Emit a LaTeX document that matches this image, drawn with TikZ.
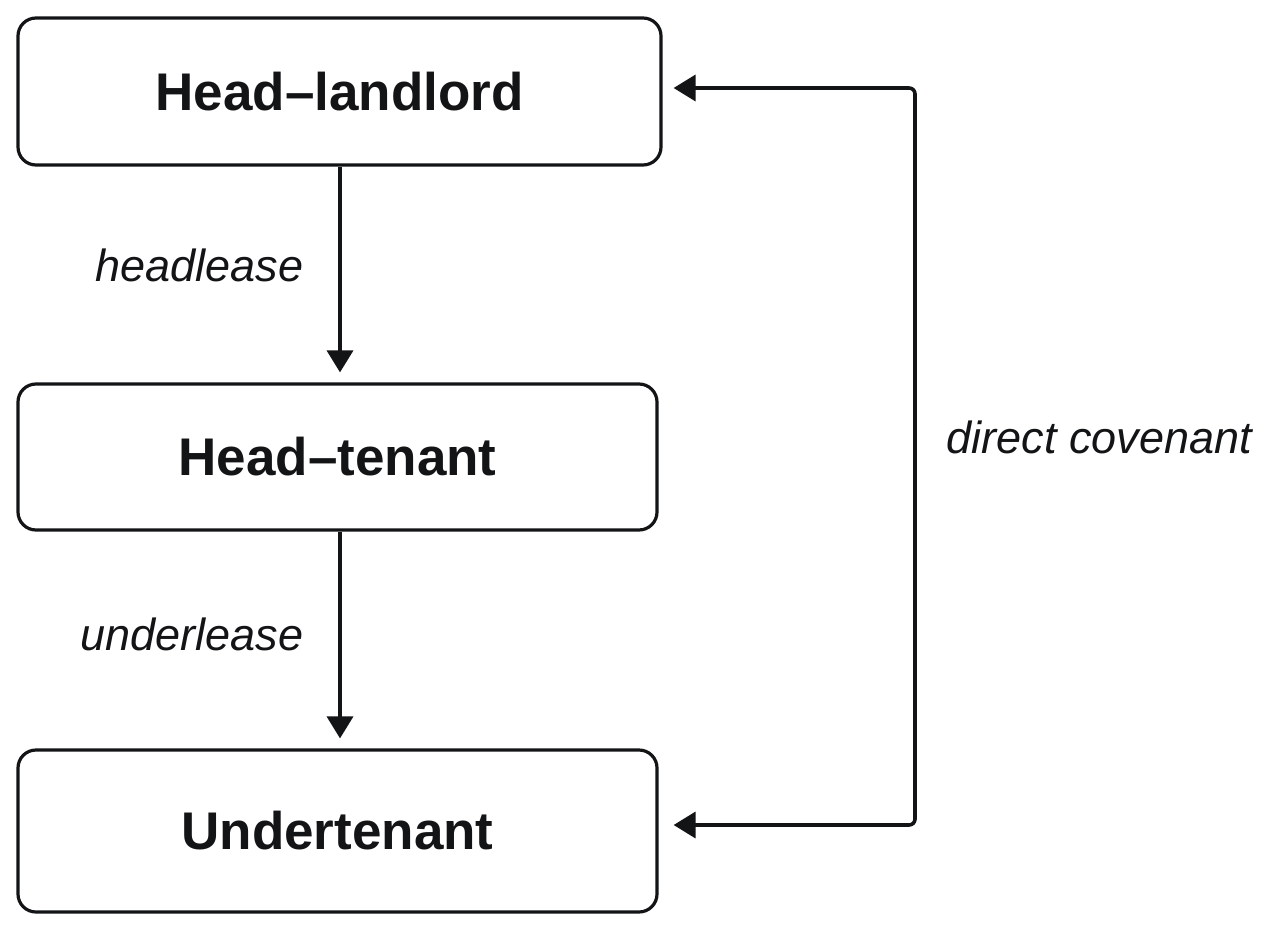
\documentclass[tikz,border=0pt]{standalone}
\usepackage{fontspec}
\setmainfont{Liberation Sans}
\usetikzlibrary{arrows.meta}
\definecolor{ink}{HTML}{131416}
\tikzset{
	party/.style={draw=ink, text=ink, line width=1.6pt, rounded corners=9pt, inner sep=0pt, font=\fontsize{26.5}{32}\selectfont\bfseries},
	lease/.style={text=ink, inner sep=0pt, font=\fontsize{22.5}{27}\selectfont\itshape},
}
\begin{document}
\begin{tikzpicture}[x=0.5pt, y=-0.5pt, line width=1.8pt, line join=round, >={Triangle[length=11pt,width=13pt]}]
		\useasboundingbox (0,0) rectangle (1267,931);
		\path
		node[party, minimum width=321.5pt, minimum height=73.5pt] (landlord) at (339.5,91.5) {Head--landlord}
		node[party, minimum width=319.5pt, minimum height=73pt] (tenant) at (337.5,457) {Head--tenant}
		node[party, minimum width=319.5pt, minimum height=81pt] (under) at (337.5,831) {Undertenant};
		\coordinate (top) at (915,88);
		\coordinate (bottom) at (915,825);
		\draw[ink, ->, shorten >=5pt] (landlord.south -| 340,0) -- (tenant.north -| 340,0) node[lease, midway, anchor=east, xshift=-17.5pt, yshift=4.5pt] (head) {headlease};
		\draw[ink, ->, shorten >=5pt] (tenant.south -| 340,0) -- (under.north -| 340,0) node[lease, midway, anchor=east, xshift=-17.5pt, yshift=3pt] (sub) {underlease};
		\draw[ink, <->, rounded corners=3pt, shorten <=5.5pt, shorten >=7.5pt] (landlord.east |- top) -- (top) -- (bottom) -- (under.east |- bottom);
		\node[lease, anchor=west] (covenant) at (945,437) {direct covenant};
	\end{tikzpicture}
\end{document}
